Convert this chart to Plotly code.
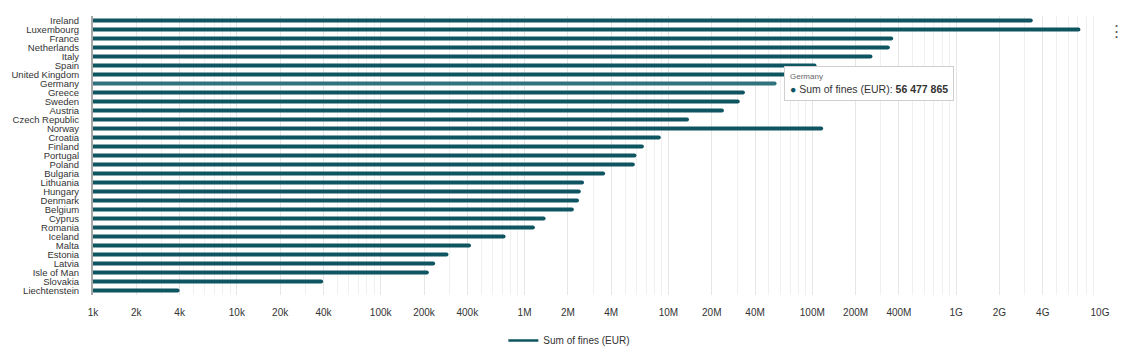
import math
import plotly.graph_objects as go

countries = ["Ireland", "Luxembourg", "France", "Netherlands", "Italy", "Spain",
             "United Kingdom", "Germany", "Greece", "Sweden", "Austria", "Czech Republic",
             "Norway", "Croatia", "Finland", "Portugal", "Poland", "Bulgaria", "Lithuania",
             "Hungary", "Denmark", "Belgium", "Cyprus", "Romania", "Iceland", "Malta",
             "Estonia", "Latvia", "Isle of Man", "Slovakia", "Liechtenstein"]
fines = [3.41e9, 7.31e9, 3.65e8, 3.46e8, 2.62e8, 1.07e8,
         7.0e7, 56477865, 3.40e7, 3.13e7, 2.43e7, 1.39e7,
         1.19e8, 8.85e6, 6.75e6, 6.0e6, 5.84e6, 3.63e6, 2.59e6,
         2.46e6, 2.39e6, 2.20e6, 1.40e6, 1.18e6, 7.38e5, 4.24e5,
         2.96e5, 2.39e5, 2.16e5, 3.98e4, 4.0e3]
tick_vals = [1e3, 2e3, 4e3, 1e4, 2e4, 4e4, 1e5, 2e5, 4e5, 1e6, 2e6, 4e6,
             1e7, 2e7, 4e7, 1e8, 2e8, 4e8, 1e9, 2e9, 4e9, 1e10]
tick_text = ["1k", "2k", "4k", "10k", "20k", "40k", "100k", "200k", "400k", "1M", "2M", "4M",
             "10M", "20M", "40M", "100M", "200M", "400M", "1G", "2G", "4G", "10G"]
series_name = "Sum of fines (EUR)"
hovered = "Germany"

BAR = "#0f5461"
HOVER = "#2f727e"
colors = [HOVER if c == hovered else BAR for c in countries]

minor_vals = [m * 10 ** e for e in range(3, 10) for m in range(1, 10)] + [1e10]

# page has an 8px body margin: figure coords = page coords - 8
W, H = 1118, 339
L, R, T, B = 85, 26, 8, 52
PW = W - L - R
PH = H - T - B

fig = go.Figure()
fig.add_trace(go.Bar(
    x=fines, y=countries, orientation="h", width=0.45,
    marker=dict(color=colors, line=dict(width=0), cornerradius=2),
    showlegend=False, name=series_name,
))
fig.add_trace(go.Scatter(
    x=[None], y=[None], mode="lines", name=series_name,
    line=dict(color=BAR, width=2.5),
))

hv = fines[countries.index(hovered)]
frac = (math.log10(hv) - 3) / 7
fig.add_annotation(
    x=frac + 7 / PW, y=hovered, xref="paper", yref="y",
    text=("<span style='font-size:8px;color:#666'>%s</span><br>"
          "<span style='color:%s'>●</span> %s: <b>%s</b>")
         % (hovered, BAR, series_name, f"{hv:,.0f}".replace(",", " ")),
    showarrow=False, xanchor="left", yanchor="middle", align="left",
    bgcolor="white", bordercolor="#cfcfcf", borderwidth=1, borderpad=5,
    font=dict(family="Liberation Sans, Arial", size=10.5, color="#333"),
)

fig.add_annotation(
    x=(1108 - L) / PW, y=(H - B - 22) / PH, xref="paper", yref="paper",
    text="⋮", showarrow=False, xanchor="center", yanchor="middle",
    font=dict(size=15, color="#555"),
)

fig.update_layout(
    width=W, height=H,
    margin=dict(l=L, r=R, t=T, b=B, autoexpand=False),
    plot_bgcolor="white", paper_bgcolor="white",
    font=dict(family="Liberation Sans, Arial", size=10, color="#333"),
    xaxis=dict(
        type="log", range=[3, 10], automargin=False,
        tickvals=tick_vals, ticktext=tick_text,
        showgrid=True, gridcolor="#e6e6e6", gridwidth=1,
        minor=dict(tickvals=minor_vals, showgrid=True, gridcolor="#f0f0f0", gridwidth=1),
        zeroline=False, showline=False,
        tickfont=dict(size=10, color="#333"),
        ticklabelstandoff=10,
    ),
    yaxis=dict(
        type="category", autorange="reversed", automargin=False,
        tickmode="array", tickvals=countries, ticktext=countries,
        showline=True, linecolor="#a6a6a6", linewidth=2,
        showgrid=False, ticks="", ticklabelstandoff=10,
        tickfont=dict(size=9.5, color="#333"),
    ),
    legend=dict(orientation="h", x=0.48 - 7 / PW, xanchor="center", y=-45.5 / PH,
                yanchor="middle", font=dict(size=10, color="#333")),
)

fig.write_html("out.html")
